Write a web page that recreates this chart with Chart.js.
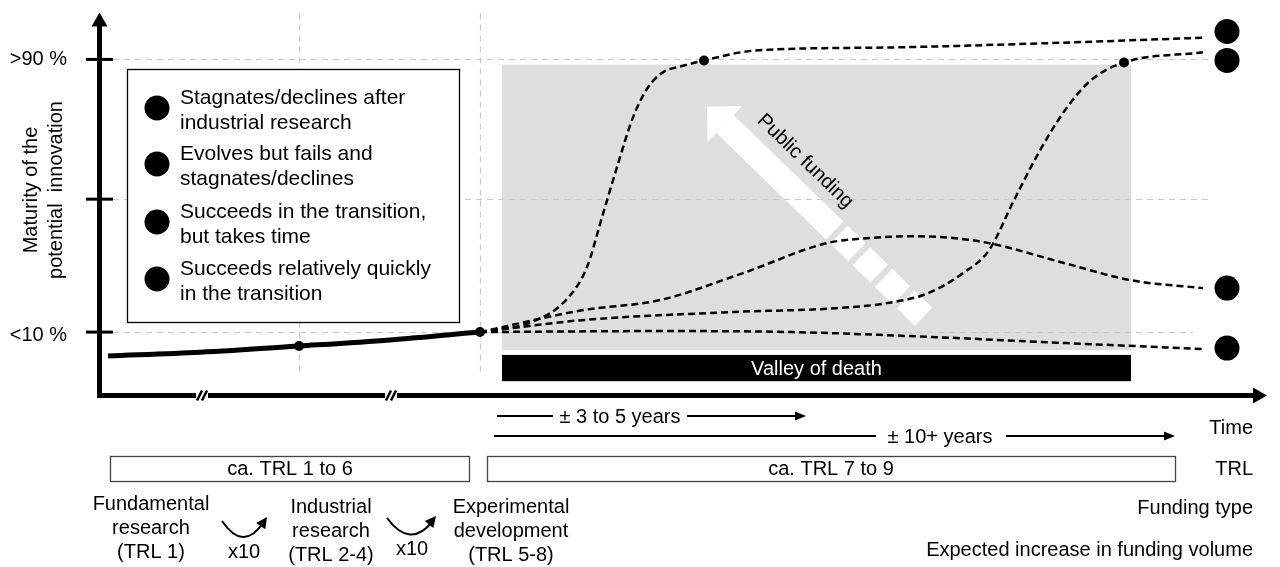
<!DOCTYPE html>
<html>
<head>
<meta charset="utf-8">
<title>Maturity of a potential innovation over time</title>
<script src="https://cdn.jsdelivr.net/npm/chart.js@4.4.1/dist/chart.umd.min.js"></script>
<style>
  html, body { margin: 0; padding: 0; background: #fff; }
  #wrap { width: 1280px; height: 567px; }
</style>
</head>
<body>
<div id="wrap"><canvas id="valleyChart" width="1280" height="567"></canvas></div>
<script>
// x = time (arbitrary units, the early phases are compressed), y = maturity in %
const researchTime = [1.1, 10.3, 20.2, 29.3, 38.3];
const researchMaturity = [3.0, 4.1, 5.9, 7.7, 10];

const quickTime = [38.3, 43.4, 46.9, 49.0, 50.5, 52.0, 53.6, 55.1, 56.6, 58.7, 60.7, 65.8, 79.0, 94.3, 110.8];
const quickMaturity = [10, 12.9, 19.4, 29.1, 43.7, 58.4, 73.0, 81.8, 86.2, 88.2, 89.7, 92.6, 93.5, 94.7, 96.4];

const slowTime = [38.3, 48.5, 63.7, 73.9, 79.0, 83.1, 86.6, 89.2, 91.7, 94.3, 96.8, 99.4, 102.7, 110.6];
const slowMaturity = [10, 13.5, 15.9, 17.0, 18.5, 21.4, 27.3, 34.0, 48.7, 63.3, 75.1, 83.9, 89.1, 92.1];

const failTime = [38.3, 48.5, 56.3, 64.6, 73.0, 77.3, 81.3, 85.3, 89.2, 96.8, 103.4, 110.6];
const failMaturity = [10, 16.4, 19.4, 27.3, 36.1, 37.6, 38.1, 37.7, 36.1, 30.2, 25.2, 22.9];

const stagnateTime = [38.3, 56.3, 69.6, 84.0, 94.4, 110.8];
const stagnateMaturity = [10, 10.3, 10.0, 8.5, 7.1, 5.0];

const milestoneTime = [20.2, 38.3, 60.7, 102.7];
const milestoneMaturity = [5.9, 10, 89.7, 89.1];

const outcomeTime = [113.0, 113.0, 113.0, 113.0];
const outcomeMaturity = [98.2, 89.7, 22.9, 5.3];

const yTickValues = [90, 49, 10];
const yTickLabels = ['>90 %', '', '<10 %'];
const stageTimes = [20.2, 38.3];
const axisBreaks = [10.5, 29.4];

const zoneTime = [40.5, 103.4];
const zoneMaturity = [4.7, 88.5];
const valleyMaturity = [3.3, -4.4];
const fundingArrowTime = [61.0, 82.8];
const fundingArrowMaturity = [76.2, 14.1];

const legendLabels = [
    ['Stagnates/declines after', 'industrial research'],
    ['Evolves but fails and', 'stagnates/declines'],
    ['Succeeds in the transition,', 'but takes time'],
    ['Succeeds relatively quickly', 'in the transition']
];

const FONT = '"Liberation Sans", Arial, sans-serif';

function zip(xs, ys) {
    return xs.map((v, i) => ({ x: v, y: ys[i] }));
}

function arrowHead(ctx, tx, ty, ang, len, half) {
    ctx.beginPath();
    ctx.moveTo(tx, ty);
    ctx.lineTo(tx - len * Math.cos(ang) + half * Math.sin(ang), ty - len * Math.sin(ang) - half * Math.cos(ang));
    ctx.lineTo(tx - len * Math.cos(ang) - half * Math.sin(ang), ty - len * Math.sin(ang) + half * Math.cos(ang));
    ctx.closePath();
    ctx.fill();
}

function text(ctx, str, x, y, align, size) {
    ctx.font = (size || 20) + 'px ' + FONT;
    ctx.textAlign = align || 'center';
    ctx.textBaseline = 'middle';
    ctx.fillText(str, x, y);
}

const decor = {
    id: 'decor',
    beforeDatasetsDraw(chart) {
        const { ctx, scales: { x, y }, chartArea: area } = chart;
        ctx.save();

        // grey zone and valley of death bar
        const zx0 = x.getPixelForValue(zoneTime[0]);
        const zx1 = x.getPixelForValue(zoneTime[1]);
        ctx.fillStyle = '#dedede';
        ctx.fillRect(zx0, y.getPixelForValue(zoneMaturity[1]), zx1 - zx0,
            y.getPixelForValue(zoneMaturity[0]) - y.getPixelForValue(zoneMaturity[1]));
        const vy0 = y.getPixelForValue(valleyMaturity[0]);
        const vy1 = y.getPixelForValue(valleyMaturity[1]);
        ctx.fillStyle = '#000';
        ctx.fillRect(zx0, vy0, zx1 - zx0, vy1 - vy0);
        ctx.fillStyle = '#fff';
        text(ctx, 'Valley of death', (zx0 + zx1) / 2, (vy0 + vy1) / 2 + 1);

        // white public funding arrow
        const tx = x.getPixelForValue(fundingArrowTime[0]);
        const ty = y.getPixelForValue(fundingArrowMaturity[0]);
        const ex = x.getPixelForValue(fundingArrowTime[1]);
        const ey = y.getPixelForValue(fundingArrowMaturity[1]);
        const ang = Math.atan2(ey - ty, ex - tx);
        const ux = Math.cos(ang), uy = Math.sin(ang);
        const bx = tx + ux * 25, by = ty + uy * 25;
        ctx.strokeStyle = '#fff';
        ctx.lineWidth = 25;
        ctx.lineCap = 'butt';
        ctx.setLineDash([153, 6, 25, 6, 25, 6, 25, 6, 25]);
        ctx.beginPath();
        ctx.moveTo(bx, by);
        ctx.lineTo(ex, ey);
        ctx.stroke();
        ctx.setLineDash([]);
        ctx.fillStyle = '#fff';
        arrowHead(ctx, tx, ty, ang + Math.PI, 25, 25);

        // dashed grid
        ctx.strokeStyle = '#c8c8c8';
        ctx.lineWidth = 1.2;
        ctx.setLineDash([6, 5]);
        const gridEnds = [1212, 1212, 1193];
        yTickValues.forEach((v, i) => {
            const py = Math.round(y.getPixelForValue(v)) + 0.5;
            ctx.beginPath();
            ctx.moveTo(113, py);
            ctx.lineTo(gridEnds[i], py);
            ctx.stroke();
        });
        stageTimes.forEach(t => {
            const px = Math.round(x.getPixelForValue(t)) + 0.5;
            ctx.beginPath();
            ctx.moveTo(px, area.top + 1);
            ctx.lineTo(px, 372);
            ctx.stroke();
        });
        ctx.restore();
    },
    afterDatasetsDraw(chart) {
        const { ctx, scales: { x, y }, chartArea: area } = chart;
        ctx.save();
        ctx.fillStyle = '#000';

        // label along the funding arrow
        const tx = x.getPixelForValue(fundingArrowTime[0]);
        const ty = y.getPixelForValue(fundingArrowMaturity[0]);
        const ang = Math.atan2(y.getPixelForValue(fundingArrowMaturity[1]) - ty,
            x.getPixelForValue(fundingArrowTime[1]) - tx);
        const ux = Math.cos(ang), uy = Math.sin(ang);
        ctx.save();
        ctx.translate(tx + ux * 108.5 + uy * 29, ty + uy * 108.5 - ux * 29);
        ctx.rotate(ang);
        text(ctx, 'Public funding', 0, 0);
        ctx.restore();

        // legend box
        ctx.fillStyle = '#fff';
        ctx.fillRect(127, 69, 332, 253);
        ctx.strokeStyle = '#000';
        ctx.lineWidth = 1.3;
        ctx.strokeRect(127.5, 69.5, 332, 253);
        const rowY = [98, 154, 212, 269];
        legendLabels.forEach((lines, i) => {
            ctx.fillStyle = '#000';
            ctx.beginPath();
            ctx.arc(157, rowY[i] + 10, 12.5, 0, Math.PI * 2);
            ctx.fill();
            lines.forEach((ln, j) => text(ctx, ln, 180, rowY[i] + j * 25, 'left', 21));
        });

        // axes with arrow heads
        const ax = area.left + 2.5;
        const ay = area.bottom - 2.5;
        ctx.strokeStyle = '#000';
        ctx.lineWidth = 5;
        ctx.lineCap = 'butt';
        ctx.beginPath();
        ctx.moveTo(ax, area.top + 12);
        ctx.lineTo(ax, ay);
        ctx.lineTo(area.right - 12, ay);
        ctx.stroke();
        ctx.fillStyle = '#000';
        arrowHead(ctx, ax, area.top, -Math.PI / 2, 14, 8);
        arrowHead(ctx, area.right, ay, 0, 14, 8);

        // axis breaks
        axisBreaks.forEach(t => {
            const px = x.getPixelForValue(t);
            ctx.fillStyle = '#fff';
            ctx.fillRect(px - 6, ay - 4, 12, 8);
            ctx.lineWidth = 2.5;
            [-2.5, 2.5].forEach(d => {
                ctx.beginPath();
                ctx.moveTo(px + d - 2.5, ay + 5);
                ctx.lineTo(px + d + 2.5, ay - 5);
                ctx.stroke();
            });
        });

        // y ticks and labels
        ctx.fillStyle = '#000';
        yTickValues.forEach((v, i) => {
            const py = y.getPixelForValue(v);
            ctx.lineWidth = 3;
            ctx.beginPath();
            ctx.moveTo(86, py);
            ctx.lineTo(113, py);
            ctx.stroke();
            if (yTickLabels[i]) text(ctx, yTickLabels[i], 67, py + (v < 50 ? 3 : 0), 'right');
        });

        // y title
        ctx.save();
        ctx.translate(0, 190);
        ctx.rotate(-Math.PI / 2);
        text(ctx, 'Maturity of the', 0, 31);
        text(ctx, 'potential  innovation', 0, 56);
        ctx.restore();

        // time spans
        ctx.lineWidth = 2;
        ctx.beginPath();
        ctx.moveTo(497, 416); ctx.lineTo(553, 416);
        ctx.moveTo(687, 416); ctx.lineTo(797, 416);
        ctx.moveTo(494, 436); ctx.lineTo(876, 436);
        ctx.moveTo(1006, 436); ctx.lineTo(1166, 436);
        ctx.stroke();
        arrowHead(ctx, 806, 416, 0, 11, 4.5);
        arrowHead(ctx, 1175, 436, 0, 11, 4.5);
        text(ctx, '\u00b1 3 to 5 years', 620, 417);
        text(ctx, '\u00b1 10+ years', 940, 437);

        // TRL boxes
        ctx.strokeStyle = '#444';
        ctx.lineWidth = 1.3;
        ctx.strokeRect(110.5, 456.5, 359, 25);
        ctx.strokeRect(487.5, 456.5, 688, 25);
        text(ctx, 'ca. TRL 1 to 6', 290, 469);
        text(ctx, 'ca. TRL 7 to 9', 831, 469);

        // right hand row labels
        text(ctx, 'Time', 1253, 428, 'right');
        text(ctx, 'TRL', 1253, 469, 'right');
        text(ctx, 'Funding type', 1253, 508, 'right');
        text(ctx, 'Expected increase in funding volume', 1253, 550, 'right');

        // funding types
        [['Fundamental', 'research', '(TRL 1)', 151, 504],
         ['Industrial', 'research', '(TRL 2-4)', 331, 507],
         ['Experimental', 'development', '(TRL 5-8)', 511, 507]].forEach(g => {
            text(ctx, g[0], g[3], g[4]);
            text(ctx, g[1], g[3], g[4] + 24);
            text(ctx, g[2], g[3], g[4] + 48);
        });
        text(ctx, 'x10', 244, 552);
        text(ctx, 'x10', 412, 549);
        ctx.strokeStyle = '#000';
        ctx.lineWidth = 2;
        [[222, 521, 243, 552, 263, 523], [387, 518, 410, 549, 432, 522]].forEach(c => {
            ctx.beginPath();
            ctx.moveTo(c[0], c[1]);
            ctx.quadraticCurveTo(c[2], c[3], c[4], c[5]);
            ctx.stroke();
            arrowHead(ctx, c[4] + 4, c[5] - 6, Math.atan2(c[5] - c[3], c[4] - c[2]), 11, 5.5);
        });
        ctx.restore();
    }
};

const curve = (data, order) => ({
    data: data,
    borderColor: '#000',
    borderWidth: 2.5,
    borderDash: [7, 4],
    pointRadius: 0,
    cubicInterpolationMode: 'monotone',
    fill: false,
    order: order
});

const ctx = document.getElementById('valleyChart').getContext('2d');
const valleyChart = new Chart(ctx, {
    type: 'line',
    data: {
        datasets: [
            { data: zip(milestoneTime, milestoneMaturity), showLine: false, pointRadius: 5,
              pointBackgroundColor: '#000', pointBorderWidth: 0, order: 0 },
            { data: zip(outcomeTime, outcomeMaturity), showLine: false, pointRadius: 12.5,
              pointBackgroundColor: '#000', pointBorderWidth: 0, order: 0 },
            { data: zip(researchTime, researchMaturity), borderColor: '#000', borderWidth: 5,
              pointRadius: 0, cubicInterpolationMode: 'monotone', order: 1 },
            curve(zip(quickTime, quickMaturity), 2),
            curve(zip(slowTime, slowMaturity), 2),
            curve(zip(failTime, failMaturity), 2),
            curve(zip(stagnateTime, stagnateMaturity), 2)
        ]
    },
    options: {
        responsive: false,
        animation: false,
        devicePixelRatio: 1,
        events: [],
        layout: { padding: { left: 97, right: 13, top: 12, bottom: 169 } },
        scales: {
            x: { type: 'linear', min: 0, max: 117, display: false },
            y: { type: 'linear', min: -9.34, max: 103.77, display: false }
        },
        plugins: {
            legend: { display: false },
            tooltip: { enabled: false }
        }
    },
    plugins: [decor]
});
</script>
</body>
</html>
